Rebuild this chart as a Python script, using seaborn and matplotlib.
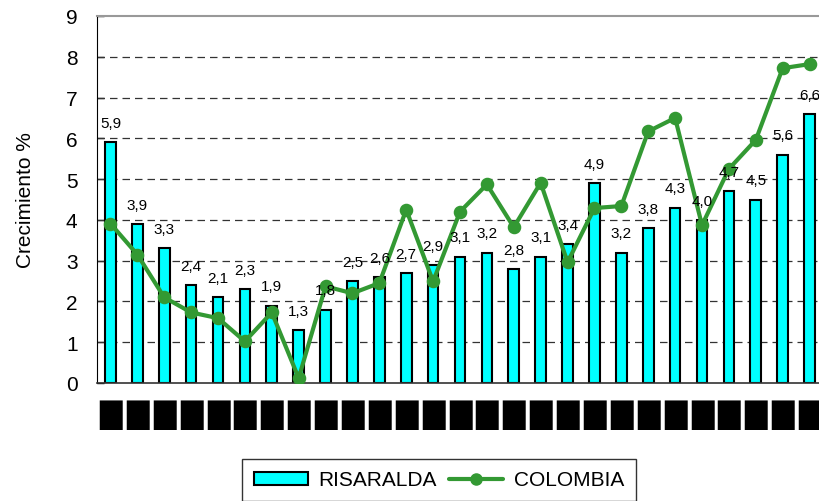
import numpy as np
import pandas as pd
import matplotlib
matplotlib.use("Agg")
import matplotlib.pyplot as plt
import seaborn as sns
from matplotlib.patches import Patch
from matplotlib.lines import Line2D

# Data
risaralda = [5.9, 3.9, 3.3, 2.4, 2.1, 2.3, 1.9, 1.3, 1.8, 2.5, 2.6, 2.7, 2.9, 3.1,
             3.2, 2.8, 3.1, 3.4, 4.9, 3.2, 3.8, 4.3, 4.0, 4.7, 4.5, 5.6, 6.6]
colombia = [3.91, 3.15, 2.10, 1.73, 1.59, 1.02, 1.73, 0.12, 2.37, 2.20, 2.45, 4.25, 2.49, 4.20,
            4.87, 3.82, 4.91, 2.96, 4.29, 4.34, 6.17, 6.50, 3.87, 5.25, 5.96, 7.72, 7.82]
# x labels are unreadable black blocks in the reference
tick_labels = ["█"] * 27
y_ticks = [0, 1, 2, 3, 4, 5, 6, 7, 8, 9]

df = pd.DataFrame({"pos": range(len(risaralda)),
                   "RISARALDA": risaralda,
                   "COLOMBIA": colombia})

sns.set_style("white")
plt.rcParams["font.family"] = ["Liberation Sans", "DejaVu Sans"]
plt.rcParams.update({"text.color": "black", "axes.labelcolor": "black",
                     "xtick.color": "black", "ytick.color": "black"})

fig = plt.figure(figsize=(8.19, 5.02), dpi=100)
ax = fig.add_axes([97 / 819, 118 / 502, 726 / 819, 367 / 502])

green = "#339933"
sns.barplot(data=df, x="pos", y="RISARALDA", color="#00FFFF", edgecolor="black",
            linewidth=1.5, width=0.4, saturation=1, ax=ax, zorder=2)
sns.pointplot(data=df, x="pos", y="COLOMBIA", color=green, markers="o",
              markersize=7.5, linewidth=3, ax=ax, zorder=3)

for i, v in enumerate(risaralda):
    ax.text(i, v + 0.3, f"{v:.1f}".replace(".", ","), ha="center", va="bottom",
            fontsize=11, zorder=4)

ax.set_xlim(-0.5, 26.5)
ax.set_ylim(0, 9)
ax.set_yticks(y_ticks)
ax.set_yticklabels([str(t) for t in y_ticks], fontsize=15)
ax.set_xticks(np.arange(len(risaralda)))
ax.set_xticklabels(tick_labels, fontsize=21, family="DejaVu Sans")
ax.tick_params(axis="x", length=0, pad=12)
ax.set_xticks(np.arange(len(risaralda)) + 0.5, minor=True)
ax.tick_params(axis="x", which="minor", direction="in", length=5, width=1, color="#333333")
ax.tick_params(axis="y", direction="in", length=5, width=1, pad=14, left=True)
ax.set_xlabel("")
ax.set_ylabel("Crecimiento %", fontsize=15, labelpad=22)

for g in range(1, 9):
    ax.axhline(g, color="#333333", linestyle=(0, (6, 4)), linewidth=0.9, zorder=1)

ax.spines["right"].set_visible(False)
ax.spines["top"].set_color("#999999")
ax.spines["top"].set_linewidth(1.5)
ax.spines["left"].set_color("black")
ax.spines["bottom"].set_color("#333333")
ax.spines["bottom"].set_linewidth(1.2)

handles = [Patch(facecolor="#00FFFF", edgecolor="black", linewidth=1.5, label="RISARALDA"),
           Line2D([0], [0], color=green, linewidth=3, marker="o", markersize=8,
                  label="COLOMBIA")]
leg = fig.legend(handles=handles, loc="center", bbox_to_anchor=(439 / 819, 1 - 481 / 502),
                 ncol=2, fontsize=15, frameon=True, fancybox=False, edgecolor="black",
                 handlelength=2.6, handleheight=0.6, handletextpad=0.5,
                 columnspacing=0.6, borderpad=0.55)
leg.get_frame().set_linewidth(1.0)

fig.savefig("out.png", dpi=100)
